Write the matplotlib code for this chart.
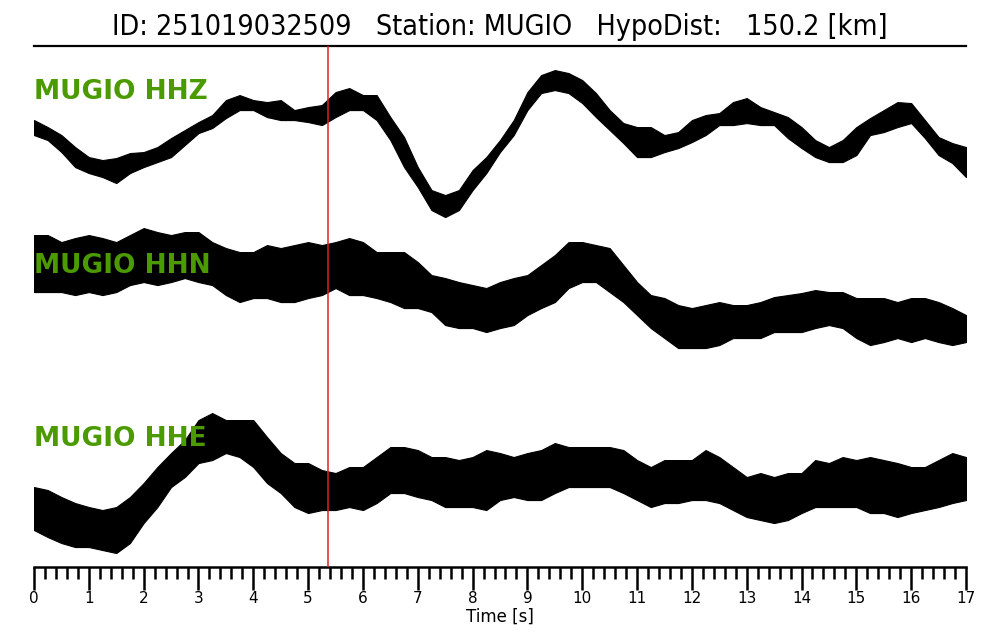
import matplotlib
matplotlib.use("Agg")
import matplotlib.pyplot as plt
import numpy as np

# ---------------- data ----------------
title_text = "ID: 251019032509   Station: MUGIO   HypoDist:   150.2 [km]"
channels = ["MUGIO HHZ", "MUGIO HHN", "MUGIO HHE"]
pick_time = 5.36          # red marker [s]
duration = 17.0
time_step = 0.25          # sampling of the read envelope [s]

# trace baselines (display units, top -> bottom)
trace_offsets = [-140, -290, -485]

# upper / lower envelope of each trace (display units relative to its baseline)
hhz_upper = [20, 13, 5, -7, -17, -20, -18, -13, -12, -7, 2, 10, 18, 25, 40, 45, 40, 38, 40, 30,
             33, 35, 48, 52, 45, 45, 23, 3, -27, -50, -55, -50, -30, -17, 0, 20, 48, 65, 70, 67,
             60, 47, 30, 17, 13, 13, 5, 8, 20, 25, 27, 38, 42, 33, 28, 23, 13, 0, -7, 0,
             13, 22, 30, 38, 37, 20, 3, -3, -7]
hhz_lower = [5, 0, -12, -27, -33, -37, -43, -33, -27, -22, -17, -5, 7, 12, 22, 30, 30, 23, 20, 20,
             18, 15, 23, 30, 30, 20, 0, -27, -47, -70, -77, -70, -50, -33, -12, 5, 30, 47, 50, 47,
             37, 23, 10, -3, -17, -17, -12, -8, -2, 5, 15, 15, 17, 15, 15, 2, -8, -17, -22, -22,
             -15, 5, 8, 13, 17, 2, -15, -23, -37]

hhn_upper = [55, 55, 48, 52, 55, 52, 48, 55, 62, 58, 55, 58, 58, 48, 42, 38, 38, 45, 42, 45,
             48, 45, 48, 52, 48, 38, 38, 38, 28, 15, 12, 8, 5, 2, 8, 12, 15, 25, 35, 48,
             48, 45, 42, 25, 8, -5, -8, -15, -18, -15, -12, -15, -15, -12, -7, -5, -3, 0, -2, -2,
             -8, -8, -8, -12, -8, -8, -12, -18, -25]
hhn_lower = [-2, -2, -2, -5, -2, -5, -2, 5, 8, 5, 8, 12, 8, 5, -5, -12, -8, -8, -12, -12,
             -8, -5, 2, -5, -5, -8, -12, -18, -18, -22, -35, -38, -38, -42, -38, -35, -25, -18, -12, 2,
             8, 8, -2, -12, -25, -38, -48, -58, -58, -58, -55, -48, -48, -48, -42, -42, -42, -38, -35, -38,
             -48, -55, -52, -48, -52, -48, -52, -55, -52]

hhe_upper = [-2, -5, -12, -18, -22, -25, -22, -12, 2, 18, 32, 45, 65, 72, 65, 65, 65, 48, 32, 22,
             22, 15, 12, 18, 18, 28, 38, 38, 35, 28, 28, 25, 28, 35, 32, 28, 32, 35, 42, 38,
             38, 38, 38, 35, 25, 18, 25, 25, 25, 35, 28, 18, 8, 12, 8, 12, 12, 25, 22, 28,
             25, 28, 25, 22, 18, 18, 25, 32, 28]
hhe_lower = [-45, -52, -58, -62, -62, -65, -68, -58, -38, -22, -2, 8, 22, 25, 32, 28, 18, 2, -8, -22,
             -28, -25, -25, -22, -25, -18, -8, -8, -12, -15, -22, -22, -22, -25, -15, -12, -15, -15, -8, -2,
             -2, -2, -2, -8, -15, -22, -18, -18, -15, -15, -18, -25, -32, -35, -38, -35, -28, -22, -22, -22,
             -22, -28, -28, -32, -28, -25, -22, -18, -15]

uppers = [hhz_upper, hhn_upper, hhe_upper]
lowers = [hhz_lower, hhn_lower, hhe_lower]

major_ticks = list(range(0, 18))
minor_step = 0.2

# ---------------- figure ----------------
fig = plt.figure(figsize=(10, 6.4), dpi=100)
ax = fig.add_axes([0.034, 0.114, 0.932, 0.814])

t = np.arange(len(hhz_upper)) * time_step
for off, up, lo in zip(trace_offsets, uppers, lowers):
    up = np.asarray(up) + off
    lo = np.asarray(lo) + off
    ax.fill_between(t, lo, up, color="black", linewidth=0.8, zorder=2)

ax.axvline(pick_time, color="#e02020", linewidth=1.1, zorder=3)

label_y = [0.911, 0.578, 0.246]
for name, ly in zip(channels, label_y):
    ax.text(0.0, ly, name, transform=ax.transAxes, color="#4a9a00",
            fontsize=19, fontweight="bold", ha="left", va="center", zorder=5,
            family="DejaVu Sans")

ax.set_xlim(0, duration)
ax.set_ylim(-567, -46)
ax.set_yticks([])
for s in ["left", "right"]:
    ax.spines[s].set_visible(False)
ax.spines["top"].set_linewidth(1.6)
ax.spines["bottom"].set_linewidth(1.8)

ax.set_xticks(major_ticks)
ax.set_xticks(np.arange(0, duration + 1e-9, minor_step), minor=True)
ax.tick_params(axis="x", which="major", direction="out", length=16.5, width=1.8,
               labelsize=11, pad=1)
ax.tick_params(axis="x", which="minor", direction="out", length=8.5, width=1.8)
ax.set_xlabel("Time [s]", fontsize=12, labelpad=1)

fig.text(0.5, 0.958, title_text, ha="center", va="center", fontsize=20.5,
         family="DejaVu Sans", fontstretch="condensed")

fig.savefig("out.png", dpi=100)
